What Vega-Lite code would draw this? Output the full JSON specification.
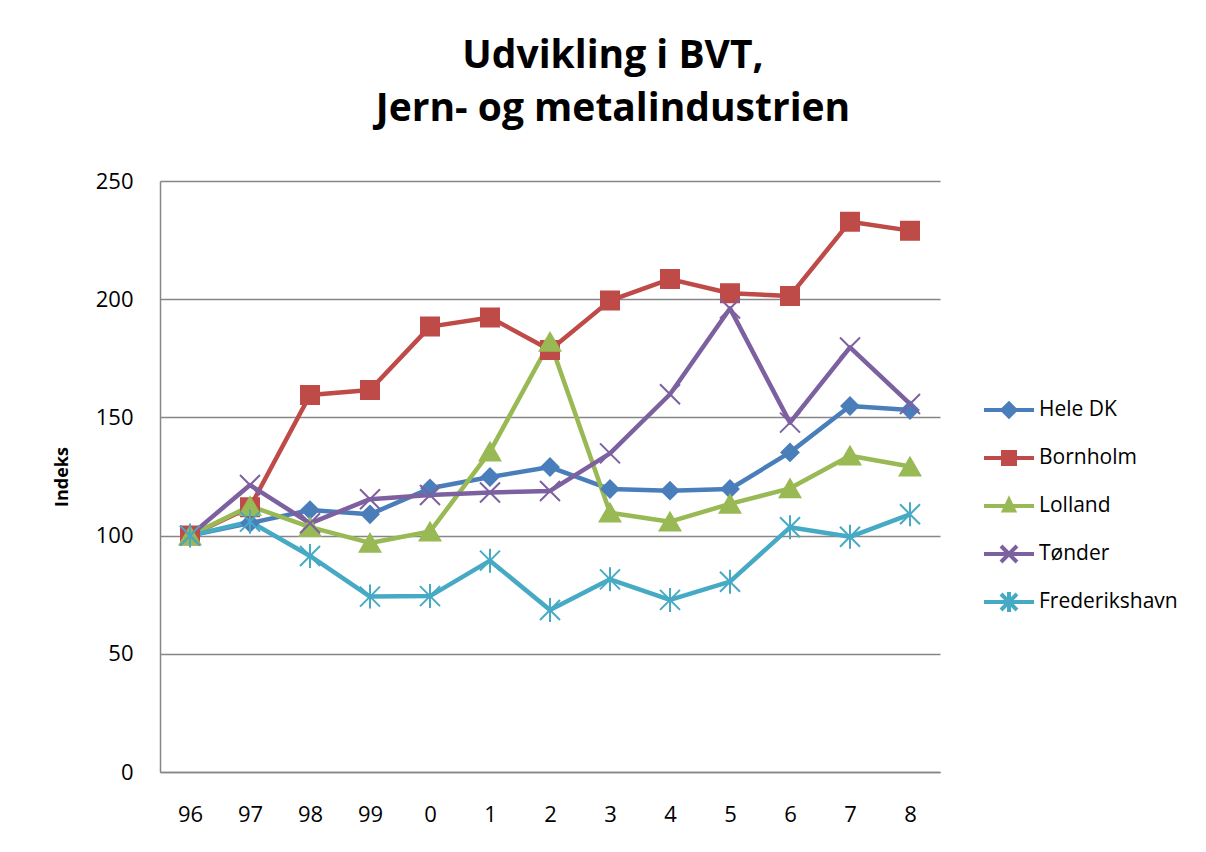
{
  "$schema": "https://vega.github.io/schema/vega-lite/v6.json",
  "autosize": {"type": "none"},
  "width": 780,
  "height": 591,
  "padding": {"left": 160, "top": 181, "right": 266, "bottom": 80},
  "background": "white",
  "title": {
    "text": ["Udvikling i BVT,", "Jern- og metalindustrien"],
    "font": "Open Sans",
    "fontSize": 39,
    "fontWeight": "bold",
    "color": "black",
    "lineHeight": 53,
    "anchor": "middle",
    "baseline": "alphabetic",
    "dx": 63,
    "offset": 10
  },
  "config": {
    "view": {"stroke": null},
    "font": "Open Sans",
    "axis": {
      "domainColor": "#868686",
      "domainWidth": 1.5,
      "gridColor": "#868686",
      "gridWidth": 1.5,
      "ticks": false,
      "tickSize": 0,
      "labelFont": "Open Sans",
      "labelFontSize": 22,
      "labelColor": "black",
      "titleColor": "black"
    }
  },
  "data": {
    "values": [
      {"year": "96", "series": "Hele DK", "value": 100},
      {"year": "97", "series": "Hele DK", "value": 105.3},
      {"year": "98", "series": "Hele DK", "value": 110.8},
      {"year": "99", "series": "Hele DK", "value": 109},
      {"year": "0", "series": "Hele DK", "value": 120},
      {"year": "1", "series": "Hele DK", "value": 124.8},
      {"year": "2", "series": "Hele DK", "value": 129},
      {"year": "3", "series": "Hele DK", "value": 119.7},
      {"year": "4", "series": "Hele DK", "value": 119},
      {"year": "5", "series": "Hele DK", "value": 119.7},
      {"year": "6", "series": "Hele DK", "value": 135.2},
      {"year": "7", "series": "Hele DK", "value": 154.8},
      {"year": "8", "series": "Hele DK", "value": 153.1},
      {"year": "96", "series": "Bornholm", "value": 100},
      {"year": "97", "series": "Bornholm", "value": 112},
      {"year": "98", "series": "Bornholm", "value": 159.5},
      {"year": "99", "series": "Bornholm", "value": 161.6},
      {"year": "0", "series": "Bornholm", "value": 188.4},
      {"year": "1", "series": "Bornholm", "value": 192.3},
      {"year": "2", "series": "Bornholm", "value": 178.5},
      {"year": "3", "series": "Bornholm", "value": 199.4},
      {"year": "4", "series": "Bornholm", "value": 208.5},
      {"year": "5", "series": "Bornholm", "value": 202.5},
      {"year": "6", "series": "Bornholm", "value": 201.4},
      {"year": "7", "series": "Bornholm", "value": 232.8},
      {"year": "8", "series": "Bornholm", "value": 229},
      {"year": "96", "series": "Lolland", "value": 100},
      {"year": "97", "series": "Lolland", "value": 112.5},
      {"year": "98", "series": "Lolland", "value": 103.6},
      {"year": "99", "series": "Lolland", "value": 96.9},
      {"year": "0", "series": "Lolland", "value": 101.7},
      {"year": "1", "series": "Lolland", "value": 135.5},
      {"year": "2", "series": "Lolland", "value": 182},
      {"year": "3", "series": "Lolland", "value": 109.7},
      {"year": "4", "series": "Lolland", "value": 105.9},
      {"year": "5", "series": "Lolland", "value": 113.4},
      {"year": "6", "series": "Lolland", "value": 120},
      {"year": "7", "series": "Lolland", "value": 133.8},
      {"year": "8", "series": "Lolland", "value": 129.2},
      {"year": "96", "series": "Tønder", "value": 100},
      {"year": "97", "series": "Tønder", "value": 121.4},
      {"year": "98", "series": "Tønder", "value": 105.2},
      {"year": "99", "series": "Tønder", "value": 115.4},
      {"year": "0", "series": "Tønder", "value": 117.2},
      {"year": "1", "series": "Tønder", "value": 118.2},
      {"year": "2", "series": "Tønder", "value": 118.9},
      {"year": "3", "series": "Tønder", "value": 134.8},
      {"year": "4", "series": "Tønder", "value": 159.8},
      {"year": "5", "series": "Tønder", "value": 196.1},
      {"year": "6", "series": "Tønder", "value": 147.8},
      {"year": "7", "series": "Tønder", "value": 179.6},
      {"year": "8", "series": "Tønder", "value": 155.7},
      {"year": "96", "series": "Frederikshavn", "value": 100},
      {"year": "97", "series": "Frederikshavn", "value": 105.9},
      {"year": "98", "series": "Frederikshavn", "value": 91.4},
      {"year": "99", "series": "Frederikshavn", "value": 74.2},
      {"year": "0", "series": "Frederikshavn", "value": 74.4},
      {"year": "1", "series": "Frederikshavn", "value": 89.4},
      {"year": "2", "series": "Frederikshavn", "value": 68.5},
      {"year": "3", "series": "Frederikshavn", "value": 81.5},
      {"year": "4", "series": "Frederikshavn", "value": 72.8},
      {"year": "5", "series": "Frederikshavn", "value": 80.5},
      {"year": "6", "series": "Frederikshavn", "value": 103.5},
      {"year": "7", "series": "Frederikshavn", "value": 99.5},
      {"year": "8", "series": "Frederikshavn", "value": 109}
    ]
  },
  "encoding": {
    "x": {
      "field": "year",
      "type": "nominal",
      "scale": {"type": "point", "padding": 0.5, "domain": ["96", "97", "98", "99", "0", "1", "2", "3", "4", "5", "6", "7", "8"]},
      "axis": {"title": null, "labelAngle": 0, "labelPadding": 32, "grid": false}
    },
    "y": {
      "field": "value",
      "type": "quantitative",
      "scale": {"domain": [0, 250], "nice": false, "zero": true},
      "axis": {
        "title": "Indeks",
        "titleFont": "Open Sans",
        "titleFontSize": 18,
        "titleFontWeight": "bold",
        "titlePadding": 24,
        "values": [0, 50, 100, 150, 200, 250],
        "labelPadding": 27,
        "grid": true
      }
    }
  },
  "layer": [
    {
      "mark": {"type": "line", "strokeWidth": 4.5, "strokeJoin": "round"},
      "encoding": {
        "color": {
          "field": "series",
          "type": "nominal",
          "scale": {
            "domain": ["Hele DK", "Bornholm", "Lolland", "Tønder", "Frederikshavn"],
            "range": ["#4A7EBB", "#BE4B48", "#98B954", "#7D60A0", "#46AAC5"]
          },
          "legend": {
            "title": null,
            "orient": "none",
            "legendX": 837,
            "legendY": 217,
            "labelFont": "Open Sans",
            "labelFontSize": 21,
            "labelColor": "black",
            "labelOffset": 18,
            "symbolSize": 400,
            "rowPadding": 12,
            "gridAlign": "all",
            "columns": 1,
            "symbolStrokeWidth": 4,
            "encode": {
              "symbols": {
                "update": {
                  "shape": {"signal": "datum.value === 'Hele DK' ? 'M-2.5,0L2.5,0M-0.65,0L0,-0.65L0.65,0L0,0.65Z' : datum.value === 'Bornholm' ? 'M-2.5,0L2.5,0M-0.6,-0.6L0.6,-0.6L0.6,0.6L-0.6,0.6Z' : datum.value === 'Lolland' ? 'M-2.5,0L2.5,0M0,-0.6L0.5,0.45L-0.5,0.45Z' : datum.value === 'Tønder' ? 'M-2.5,0L2.5,0M-0.8,-0.8L0.8,0.8M0.8,-0.8L-0.8,0.8' : 'M-2.5,0L2.5,0M-0.8,-0.8L0.8,0.8M0.8,-0.8L-0.8,0.8M0,-1L0,1'"},
                  "fill": {"scale": "color", "field": "value"},
                  "stroke": {"scale": "color", "field": "value"},
                  "strokeWidth": {"value": 4},
                  "size": {"value": 400}
                }
              }
            }
          }
        }
      }
    },
    {
      "transform": [{"filter": "datum.series === 'Hele DK'"}],
      "mark": {"type": "point", "shape": "diamond", "size": 290, "filled": true, "opacity": 1, "color": "#4A7EBB", "stroke": "#4A7EBB", "strokeWidth": 2}
    },
    {
      "transform": [{"filter": "datum.series === 'Bornholm'"}],
      "mark": {"type": "point", "shape": "square", "size": 324, "filled": true, "opacity": 1, "color": "#BE4B48", "stroke": "#BE4B48", "strokeWidth": 2}
    },
    {
      "transform": [{"filter": "datum.series === 'Lolland'"}],
      "mark": {"type": "point", "shape": "triangle-up", "size": 420, "filled": true, "opacity": 1, "color": "#98B954", "stroke": "#98B954", "strokeWidth": 2}
    },
    {
      "transform": [{"filter": "datum.series === 'Tønder'"}],
      "mark": {"type": "point", "shape": "M-1,-1L1,1M1,-1L-1,1", "size": 400, "filled": false, "opacity": 1, "color": "#7D60A0", "stroke": "#7D60A0", "strokeWidth": 2}
    },
    {
      "transform": [{"filter": "datum.series === 'Frederikshavn'"}],
      "mark": {"type": "point", "shape": "M-1,-1L1,1M1,-1L-1,1M0,-1.2L0,1.2", "size": 400, "filled": false, "opacity": 1, "color": "#46AAC5", "stroke": "#46AAC5", "strokeWidth": 2}
    }
  ]
}
